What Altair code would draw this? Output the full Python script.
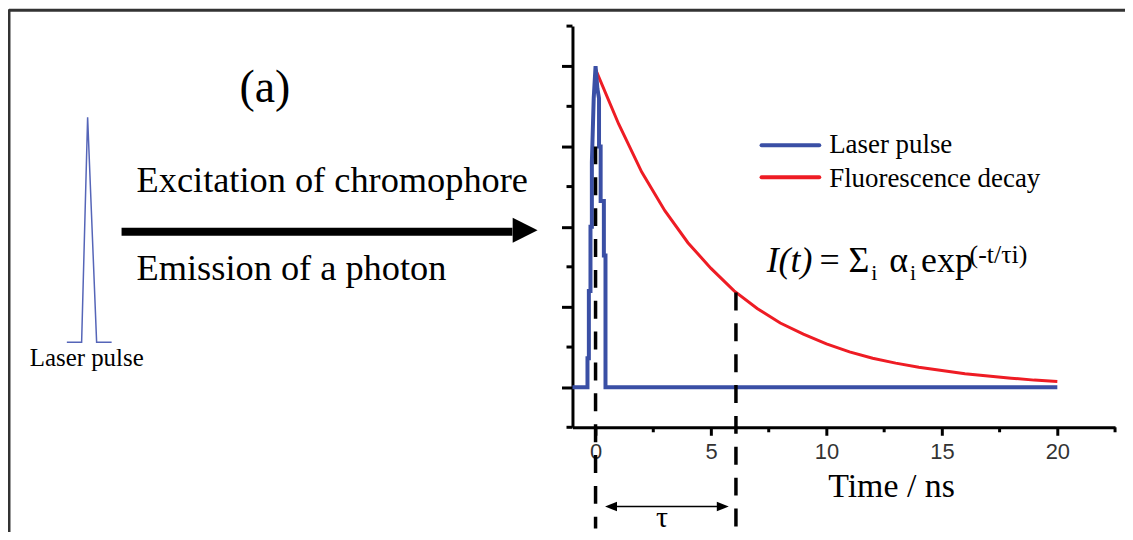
import altair as alt
import pandas as pd

SERIF = "Liberation Serif"
SANS = "Liberation Sans"
BLUE = "#3a4fa5"
RED = "#ee1c24"

# ---------------- data ----------------
# Fluorescence decay (time in ns, normalised intensity)
decay_t = [0, 1, 2, 3, 4, 5, 6, 7, 8, 9, 10, 11, 12, 13, 14, 15, 16, 17, 18, 19, 20]
decay_v = [0.99, 0.82, 0.67, 0.55, 0.45, 0.37, 0.30, 0.245, 0.20, 0.165, 0.135,
           0.11, 0.09, 0.075, 0.062, 0.052, 0.042, 0.035, 0.028, 0.022, 0.018]

# Laser pulse (stepped instrument response)
pulse_t = [-1.0, -0.35, -0.35, -0.29, -0.29, -0.22, -0.22, -0.16, -0.16, -0.08,
           0.0, 0.08, 0.15, 0.15, 0.22, 0.22, 0.36, 0.36, 0.43, 0.43, 20.0]
pulse_v = [0, 0, 0.09, 0.09, 0.30, 0.30, 0.50, 0.50, 0.70, 0.90,
           1.0, 0.93, 0.90, 0.75, 0.75, 0.58, 0.58, 0.41, 0.41, 0, 0]

# dashed markers (t = 0 and t = tau)
dash_t = [0.0, 6.08]
dash_top = [0.75, 0.295]
dash_bottom = [-0.44, -0.44]

# axis ticks
x_major = [0, 5, 10, 15, 20]
x_minor = [2.5, 7.5, 12.5, 17.5, 22.5]
y_major = [0, 0.25, 0.5, 0.75, 1.0]
y_minor = [-0.125, 0.125, 0.375, 0.625, 0.875, 1.125]

# schematic laser pulse on the left (same data units)
icon_t = [-22.90, -22.26, -22.0, -21.61, -20.96]
icon_v = [0.140, 0.140, 0.841, 0.140, 0.140]

# tau arrow
tau_from, tau_to, tau_v = 0.41, 5.77, -0.372
# big excitation arrow
big_from, big_to, big_v = -20.53, -3.6, 0.484

# legend
leg_labels = ["Laser pulse", "Fluorescence decay"]
leg_colors = [BLUE, RED]
leg_line_v = [0.754, 0.654]
leg_text_v = [0.729, 0.623]
leg_x0, leg_x1, leg_tx = 7.19, 9.69, 10.12

W, H = 545, 403
one = pd.DataFrame({"a": [0]})

xs = alt.Scale(domain=[-1, 22.5], nice=False, zero=False)
ys = alt.Scale(domain=[-0.125, 1.125], nice=False, zero=False)

decay_df = pd.DataFrame({"t": decay_t, "v": decay_v})
pulse_df = pd.DataFrame({"t": pulse_t, "v": pulse_v, "o": list(range(len(pulse_t)))})
dash_df = pd.DataFrame({"t": dash_t, "top": dash_top, "bot": dash_bottom})
icon_df = pd.DataFrame({"t": icon_t, "v": icon_v, "o": list(range(len(icon_t)))})

layers = []

# frame (page decoration)
layers.append(alt.Chart(one).mark_rule(color="#333", strokeWidth=3).encode(
    x=alt.value(-566), x2=alt.value(560), y=alt.value(-16)))
layers.append(alt.Chart(one).mark_rule(color="#333", strokeWidth=3).encode(
    x=alt.value(-566), y=alt.value(-17), y2=alt.value(510)))

# decay curve (carries the axes)
layers.append(alt.Chart(decay_df).mark_line(color=RED, strokeWidth=3).encode(
    x=alt.X("t:Q", scale=xs, axis=alt.Axis(
        values=x_major, tickSize=8, tickWidth=3, tickColor="black",
        domainWidth=3, domainColor="black", grid=False,
        labelFont=SANS, labelFontSize=22, labelColor="#333", labelPadding=6,
        title="Time / ns", titleFont=SERIF, titleFontSize=34, titleFontWeight="normal",
        titleColor="black", titleX=320, titleY=70, titleBaseline="alphabetic",
        titleAlign="center")),
    y=alt.Y("v:Q", scale=ys, axis=alt.Axis(
        values=y_major, tickSize=11, tickWidth=3, tickColor="black",
        domainWidth=3, domainColor="black", grid=False, labels=False, title=None)),
))

# laser pulse
layers.append(alt.Chart(pulse_df).mark_line(color=BLUE, strokeWidth=4).encode(
    x="t:Q", y="v:Q", order="o:Q"))

# dashed lines
layers.append(alt.Chart(dash_df).mark_rule(color="black", strokeWidth=3.5, strokeDash=[18, 13]).encode(
    x="t:Q", y="top:Q", y2="bot:Q"))

# minor ticks
layers.append(alt.Chart(pd.DataFrame({"t": x_minor})).mark_rule(color="black", strokeWidth=3).encode(
    x="t:Q", y=alt.value(H), y2=alt.value(H + 5)))
layers.append(alt.Chart(pd.DataFrame({"v": y_minor})).mark_rule(color="black", strokeWidth=3).encode(
    y="v:Q", x=alt.value(0), x2=alt.value(-6)))

# tau double arrow
layers.append(alt.Chart(one).mark_rule(color="black", strokeWidth=1.5).encode(
    x=alt.datum(tau_from + 0.3), x2=alt.datum(tau_to - 0.3), y=alt.datum(tau_v)))
layers.append(alt.Chart(one).mark_point(shape="M-1,0L1,-0.8L1,0.8Z", filled=True, size=144,
                                        color="black", opacity=1, strokeWidth=0).encode(
    x=alt.datum(tau_from + 0.26), y=alt.datum(tau_v)))
layers.append(alt.Chart(one).mark_point(shape="M1,0L-1,-0.8L-1,0.8Z", filled=True, size=144,
                                        color="black", opacity=1, strokeWidth=0).encode(
    x=alt.datum(tau_to - 0.26), y=alt.datum(tau_v)))

# big arrow
layers.append(alt.Chart(one).mark_rule(color="black", strokeWidth=8).encode(
    x=alt.datum(big_from), x2=alt.datum(big_to), y=alt.datum(big_v)))
layers.append(alt.Chart(one).mark_point(shape="M1,0L-1,-1L-1,1Z", filled=True, size=625,
                                        color="black", opacity=1, strokeWidth=0).encode(
    x=alt.datum(-3.05), y=alt.datum(big_v + 0.005)))

# left laser pulse icon
layers.append(alt.Chart(icon_df).mark_line(color="#5565b8", strokeWidth=1.5).encode(
    x="t:Q", y="v:Q", order="o:Q"))

# legend
for lab, col, lv, tv in zip(leg_labels, leg_colors, leg_line_v, leg_text_v):
    layers.append(alt.Chart(one).mark_rule(color=col, strokeWidth=4, strokeCap="round").encode(
        x=alt.datum(leg_x0), x2=alt.datum(leg_x1), y=alt.datum(lv)))
    layers.append(alt.Chart(one).mark_text(text=lab, align="left", baseline="alphabetic",
                                           font=SERIF, fontSize=27, color="black").encode(
        x=alt.datum(leg_tx), y=alt.datum(tv)))


def txt(s, t, v, size, align="left", style="normal"):
    return alt.Chart(one).mark_text(text=s, align=align, baseline="alphabetic", font=SERIF,
                                    fontSize=size, fontStyle=style, color="black").encode(
        x=alt.datum(t), y=alt.datum(v))


# texts: (text, t, v, size, align, style)
texts = [
    ("(a)", -14.32, 0.887, 46, "center", "normal"),
    ("Excitation of chromophore", -19.88, 0.608, 36.5, "left", "normal"),
    ("Emission of a photon", -19.88, 0.335, 36.5, "left", "normal"),
    ("Laser pulse", -22.04, 0.065, 25, "center", "normal"),
    ("τ", 2.88, -0.437, 30, "center", "normal"),
    ("I(t)", 7.41, 0.360, 36, "left", "italic"),
    ("=", 9.70, 0.360, 36, "left", "normal"),
    ("Σ", 10.95, 0.360, 36, "left", "normal"),
    ("i", 11.94, 0.335, 22, "left", "normal"),
    ("α", 12.72, 0.360, 36, "left", "normal"),
    ("i", 13.62, 0.335, 22, "left", "normal"),
    ("exp", 14.1, 0.360, 36, "left", "normal"),
    ("(-t/τi)", 16.2, 0.386, 26, "left", "normal"),
]
for s, t, v, size, align, style in texts:
    layers.append(txt(s, t, v, size, align, style))

chart = alt.layer(*layers).properties(
    width=W, height=H,
    autosize=alt.AutoSizeParams(type="none"),
    padding={"left": 567, "top": 17, "right": 10, "bottom": 104},
).configure_view(strokeWidth=0, stroke=None)

chart.save("out.html", embed_options={"renderer": "svg", "actions": False})
